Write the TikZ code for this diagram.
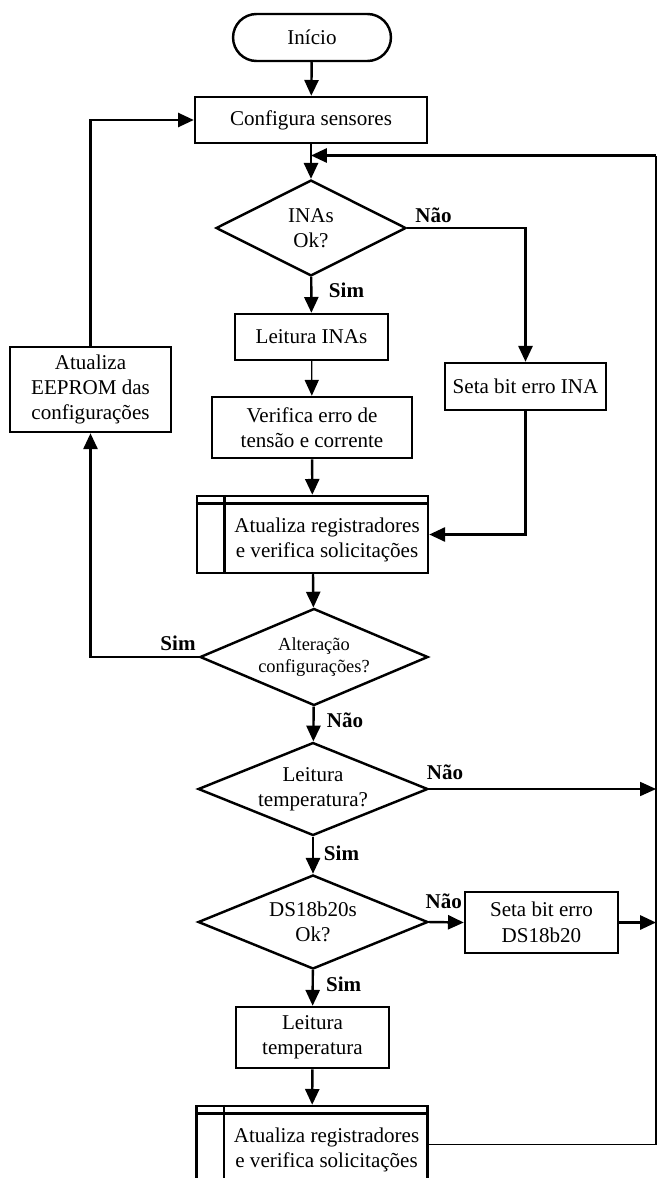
\documentclass[tikz,border=0pt]{standalone}
\usepackage{fontspec}
\setmainfont{Liberation Serif}
\usetikzlibrary{positioning,shapes,arrows.meta}

\tikzset{
caixa/.style={draw, rectangle, line width=1.4pt, inner sep=0pt, align=center, font=\fontsize{12}{14.5}\selectfont},
inicio/.style={draw, rounded rectangle, line width=1.4pt, inner sep=0pt, minimum width=90pt, minimum height=26.8pt, font=\fontsize{12}{14.5}\selectfont},
decisao/.style={draw, diamond, aspect=2.3, inner sep=0pt, line width=1.4pt, align=center, font=\fontsize{12}{14.5}\selectfont},
subrot/.style={caixa, minimum width=131.7pt, minimum height=43.9pt},
texto/.style={align=center, font=\fontsize{12}{14.5}\selectfont},
rotulo/.style={font=\fontsize{12}{14.5}\selectfont\bfseries},
seta/.style={line width=1.4pt, -{Triangle[length=9pt,width=8pt]}},
setafina/.style={line width=0.7pt, -{Triangle[length=9pt,width=8pt]}},
fina/.style={line width=0.9pt}
}

\begin{document}
\begin{tikzpicture}[x=0.57pt,y=-0.57pt]
\useasboundingbox (0,0) rectangle (657,1178);
\clip (0,0) rectangle (657,1178);

\node[inicio] (ini) at (312,37.5) {Início};
\node[caixa, minimum width=132.2pt, minimum height=26.2pt] (config) at (311,120) {Configura sensores};
\node[decisao, minimum width=108.3pt, minimum height=54.7pt] (ina) at (311,228) {INAs\\Ok?};
\node[caixa, minimum width=87.2pt, minimum height=26.2pt] (lerina) at (311.5,337) {Leitura INAs};
\node[caixa, minimum width=114pt, minimum height=34.8pt] (verifica) at (312,427.5) {Verifica erro de\\tensão e corrente};
\node[caixa, minimum width=91.8pt, minimum height=26.8pt] (setaina) at (525.5,386.5) {Seta bit erro INA};
\node[subrot] (sub1) at (312.5,534.5) {};
\node[texto] (sub1txt) at ([xshift=8.3pt,yshift=-3pt]sub1.center) {Atualiza registradores\\e verifica solicitações};
\node[decisao, minimum width=130pt, minimum height=55.3pt, aspect=2.4, font=\fontsize{10.5}{12.5}\selectfont] (alt) at (314,657) {Alteração\\configurações?};
\node[caixa, minimum width=91.8pt, minimum height=48.5pt] (eeprom) at (90.5,389.5) {Atualiza\\EEPROM das\\configurações};
\node[decisao, minimum width=131pt, minimum height=53pt] (leitemp) at (313,789) {Leitura\\temperatura?};
\node[decisao, minimum width=131pt, minimum height=53.6pt] (ds) at (313,922) {DS18b20s\\Ok?};
\node[caixa, minimum width=87.2pt, minimum height=34.8pt] (setads) at (541.5,922.5) {Seta bit erro\\DS18b20};
\node[caixa, minimum width=87.2pt, minimum height=34.8pt] (letemp) at (312.5,1037.5) {Leitura\\temperatura};
\node[subrot] (sub2) at (312,1144.5) {};
\node[texto] (sub2txt) at ([xshift=8.3pt,yshift=-3pt]sub2.center) {Atualiza registradores\\e verifica solicitações};

\foreach \s in {sub1,sub2}{
\draw[line width=1.4pt] ([xshift=16.5pt]\s.north west) -- ([xshift=16.5pt]\s.south west);
\draw[line width=1.4pt] ([yshift=-5.1pt]\s.north west) -- ([yshift=-5.1pt]\s.north east);
}

\coordinate (dircima) at (656,155.5);
\coordinate (dirbaixo) at (656,1144.5);

\draw[seta] (ini) -- (config);
\draw[seta] (config) -- (ina);
\draw[seta] (ina) -- (lerina);
\draw[setafina] (lerina) -- (verifica);
\draw[seta] (verifica) -- (sub1);
\draw[seta] (ina.east) -| (setaina.north);
\draw[seta] (setaina.south) |- (sub1.east);
\draw[seta] (sub1) -- (alt);
\draw[seta] (alt.west) -| (eeprom.south);
\draw[seta] (eeprom.north) |- (config.west);
\draw[seta] (alt) -- (leitemp);
\draw[setafina] (leitemp.east) -- (leitemp.east -| dircima);
\draw[seta] (leitemp) -- (ds);
\draw[seta] (ds.east) -- (setads.west);
\draw[seta] (setads.east) -- (setads.east -| dircima);
\draw[seta] (ds) -- (letemp);
\draw[seta] (letemp) -- (sub2);
\draw[fina] (sub2.east) -- (dirbaixo) -- (dircima);
\draw[seta] (dircima) -- (dircima -| config.south);

\node[rotulo] (nao1) at (433.5,215) {Não};
\node[rotulo] (sim1) at (346.5,290) {Sim};
\node[rotulo] (sim2) at (178,643) {Sim};
\node[rotulo] (nao2) at (345,720) {Não};
\node[rotulo] (nao3) at (445,772) {Não};
\node[rotulo] (sim3) at (341.5,853) {Sim};
\node[rotulo] (nao4) at (443.7,901.7) {Não};
\node[rotulo] (sim4) at (343.7,984) {Sim};
\end{tikzpicture}
\end{document}
